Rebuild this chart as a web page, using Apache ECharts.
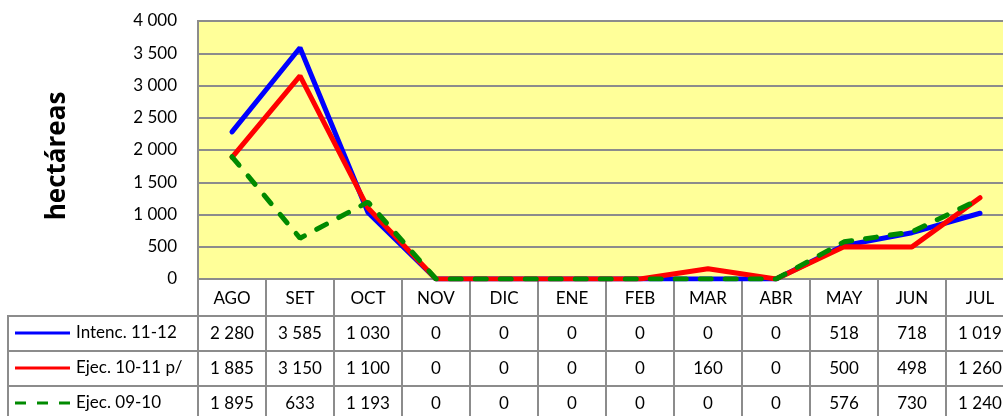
<!DOCTYPE html>
<html>
<head>
<meta charset="utf-8">
<script src="https://cdn.jsdelivr.net/npm/echarts@6/dist/echarts.min.js"></script>
<style>
body{margin:0;background:#fff;overflow:hidden;}
#chart{width:1020px;height:416px;}
</style>
</head>
<body>
<div id="chart"></div>
<script>
var months = ['AGO','SET','OCT','NOV','DIC','ENE','FEB','MAR','ABR','MAY','JUN','JUL'];
var intenc1112 = [2280, 3585, 1030, 0, 0, 0, 0, 0, 0, 518, 718, 1019];
var ejec1011 = [1885, 3150, 1100, 0, 0, 0, 0, 160, 0, 500, 498, 1260];
var ejec0910 = [1895, 633, 1193, 0, 0, 0, 0, 0, 0, 576, 730, 1240];
var seriesNames = ['Intenc. 11-12', 'Ejec. 10-11 p/', 'Ejec. 09-10'];
var seriesColors = ['#0000ff', '#ff0000', '#008a00'];
var seriesDash = ['solid', 'solid', [11, 14]];

var FONT = 'Lato';
var GRAY = '#8c8c8c';

function fmt(v){
    return String(v).replace(/\B(?=(\d{3})+(?!\d))/g, ' ');
}

function rowAxis(values, offset){
    return {
        type: 'category',
        data: months,
        position: 'bottom',
        offset: offset,
        axisLine: {show: true, lineStyle: {color: GRAY, width: 2}},
        axisTick: {show: true, length: 35, lineStyle: {color: GRAY, width: 2}},
        axisLabel: {
            margin: 9, fontSize: 17, fontFamily: FONT, color: '#000',
            formatter: function(v, i){ return fmt(values[i]); }
        },
        splitLine: {show: false}
    };
}

// table borders on the legend column + legend keys
var graphics = [
    {type: 'polyline', shape: {points: [[198, 316], [8, 316], [8, 420]]},
     style: {stroke: GRAY, lineWidth: 2, fill: null}},
    {type: 'line', shape: {x1: 8, y1: 351, x2: 198, y2: 351}, style: {stroke: GRAY, lineWidth: 2}},
    {type: 'line', shape: {x1: 8, y1: 386, x2: 198, y2: 386}, style: {stroke: GRAY, lineWidth: 2}},
    {type: 'text', x: 58, y: 156, rotation: Math.PI/2,
     style: {text: 'hectáreas', fontSize: 26, fontWeight: 'bold', fontFamily: 'Open Sans',
             fill: '#000', align: 'center', verticalAlign: 'middle'}}
];
for(var i=0;i<seriesNames.length;i++)
{
    var cy = 333 + i*35;
    graphics.push({type: 'line', shape: {x1: 15, y1: cy, x2: 70, y2: cy},
        style: {stroke: seriesColors[i], lineWidth: 3,
                lineDash: seriesDash[i] == 'solid' ? null : [11, 11]}});
    graphics.push({type: 'text', x: 76, y: cy,
        style: {text: seriesNames[i], fontSize: 17, fontFamily: FONT, fill: '#000',
                verticalAlign: 'middle'}});
}

var chart = echarts.init(document.getElementById('chart'));
var option = {
    animation: false,
    grid: {left: 198, top: 21, height: 258, width: 816, show: true,
           backgroundColor: '#ffff99', borderColor: GRAY, borderWidth: 2},
    xAxis: [
        {
            type: 'category',
            data: months,
            position: 'bottom',
            axisLine: {show: true, lineStyle: {color: GRAY, width: 2}},
            axisTick: {show: true, length: 37, lineStyle: {color: GRAY, width: 2}},
            axisLabel: {margin: 11, fontSize: 17, fontFamily: FONT, color: '#000'}
        },
        rowAxis(intenc1112, 37),
        rowAxis(ejec1011, 72),
        rowAxis(ejec0910, 107)
    ],
    yAxis: {
        type: 'value', min: 0, max: 4000, interval: 500,
        axisLine: {show: true, lineStyle: {color: GRAY, width: 2}},
        axisTick: {show: false},
        axisLabel: {margin: 21, fontSize: 17, fontFamily: FONT, color: '#000',
                    formatter: function(v){ return fmt(v); }},
        splitLine: {lineStyle: {color: GRAY, width: 2}}
    },
    graphic: graphics,
    series: [
        {name: seriesNames[0], type: 'line', data: intenc1112, symbol: 'none',
         lineStyle: {width: 5, color: seriesColors[0], cap: 'round'}},
        {name: seriesNames[1], type: 'line', data: ejec1011, symbol: 'none',
         lineStyle: {width: 5, color: seriesColors[1], cap: 'round'}},
        {name: seriesNames[2], type: 'line', data: ejec0910, symbol: 'none',
         lineStyle: {width: 5, color: seriesColors[2], type: seriesDash[2], cap: 'round'}}
    ]
};
chart.setOption(option);
</script>
</body>
</html>
